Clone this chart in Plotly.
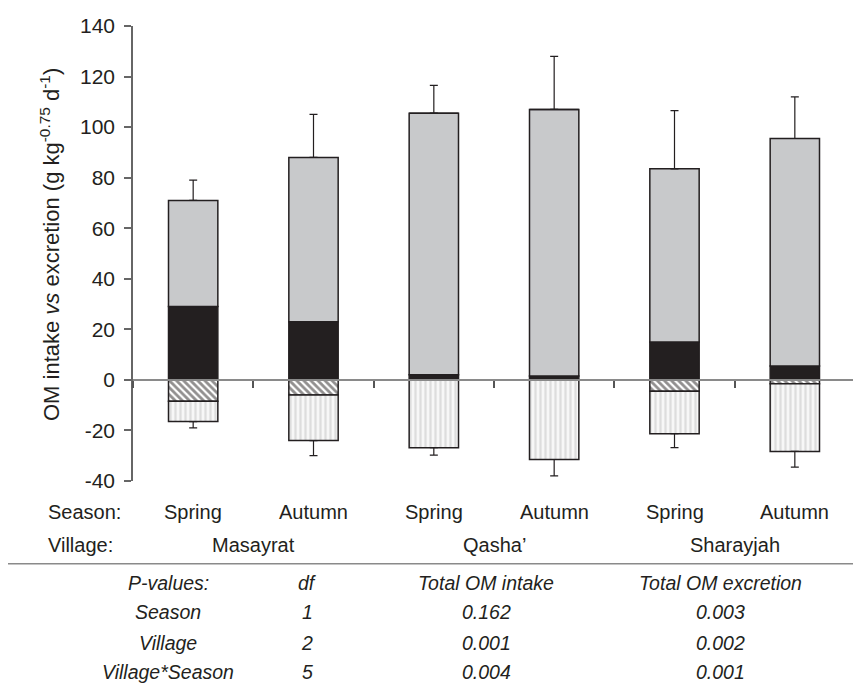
import plotly.graph_objects as go

# ---- data ----
villages = ["Masayrat", "Qasha’", "Sharayjah"]
seasons = ["Spring", "Autumn", "Spring", "Autumn", "Spring", "Autumn"]
groups = ["Masayrat Spring", "Masayrat Autumn", "Qasha Spring", "Qasha Autumn",
          "Sharayjah Spring", "Sharayjah Autumn"]
# intake (positive): black part and total intake (top of grey bar)
intake_black = [29, 23, 2, 1.5, 15, 5.5]
intake_total = [71, 88, 105.5, 107, 83.5, 95.5]
intake_err = [8, 17, 11, 21, 23, 16.5]
# excretion (negative): hatched part and total excretion (bottom of striped bar)
excr_hatched = [-8.5, -6, 0, 0, -4.5, -1.5]
excr_total = [-16.5, -24, -26.8, -31.5, -21.3, -28.3]
excr_err = [2.5, 6, 3, 6.5, 5.5, 6.2]

y_tick_vals = [-40, -20, 0, 20, 40, 60, 80, 100, 120, 140]
y_tick_text = ["-40", "-20", "0", "20", "40", "60", "80", "100", "120", "140"]

pval_rows = ["Season", "Village", "Village*Season"]
pval_df = ["1", "2", "5"]
pval_intake = ["0.162", "0.001", "0.004"]
pval_excretion = ["0.003", "0.002", "0.001"]

# ---- derived segments ----
intake_grey = [t - b for t, b in zip(intake_total, intake_black)]
excr_striped = [t - h for t, h in zip(excr_total, excr_hatched)]
zeros = [0] * len(groups)

INK = "#231f20"
FONT = "Liberation Sans, Arial, sans-serif"
line = dict(color=INK, width=1.5)
W = 0.41

fig = go.Figure()
fig.add_bar(x=groups, y=intake_black, width=W, marker=dict(color=INK, line=line))
fig.add_bar(x=groups, y=intake_grey, width=W, marker=dict(color="#c8c9cb", line=line),
            error_y=dict(type="data", symmetric=False, array=intake_err, arrayminus=zeros,
                         color=INK, thickness=1.2, width=4))
fig.add_bar(x=groups, y=excr_hatched, width=W,
            marker=dict(color="white", line=line,
                        pattern=dict(shape="\\", fgcolor=INK, bgcolor="white", size=5, solidity=0.55)))
fig.add_bar(x=groups, y=excr_striped, width=W,
            marker=dict(color="white", line=line,
                        pattern=dict(shape="|", fgcolor="#c4c4c4", bgcolor="#f7f7f7", size=5, solidity=0.45)),
            error_y=dict(type="data", symmetric=False, array=zeros, arrayminus=excr_err,
                         color=INK, thickness=1.2, width=4))

# page body has a default 8px margin; compensate so the page matches the target
OFF = 8
L, R, T, B = 133, 6, 24, 204
PW, PH = 861 - L - R, 685 - T - B
px = lambda x: (x - L) / PW
py = lambda y: (685 - B - y) / PH

FS = 20
ann = []
# season / village rows
ann.append(dict(x=px(46), y=py(512), xref="paper", yref="paper", text="Season:",
                xanchor="left", yanchor="middle", showarrow=False, font=dict(size=FS, color=INK)))
ann.append(dict(x=px(46), y=py(545), xref="paper", yref="paper", text="Village:",
                xanchor="left", yanchor="middle", showarrow=False, font=dict(size=FS, color=INK)))
for g, s in zip(groups, seasons):
    ann.append(dict(x=g, y=py(512), xref="x", yref="paper", text=s, xanchor="center",
                    yanchor="middle", showarrow=False, font=dict(size=FS, color=INK)))
for i, v in enumerate(villages):
    ann.append(dict(x=2 * i + 0.5, y=py(545), xref="x", yref="paper", text=v, xanchor="center",
                    yanchor="middle", showarrow=False, font=dict(size=FS, color=INK)))
# table
TS = 19.5
cols = [168, 307, 486, 720]
header = ["P-values:", "df", "Total OM intake", "Total OM excretion"]
rows_y = [583, 613, 644, 673]
for c, h in zip(cols, header):
    ann.append(dict(x=px(c), y=py(rows_y[0]), xref="paper", yref="paper", text=f"<i>{h}</i>",
                    xanchor="center", yanchor="middle", showarrow=False, font=dict(size=TS, color=INK)))
for r in range(3):
    vals = [pval_rows[r], pval_df[r], pval_intake[r], pval_excretion[r]]
    for c, v in zip(cols, vals):
        ann.append(dict(x=px(c), y=py(rows_y[r + 1]), xref="paper", yref="paper", text=f"<i>{v}</i>",
                        xanchor="center", yanchor="middle", showarrow=False, font=dict(size=TS, color=INK)))
# y title
ann.append(dict(x=0, y=py(244), xref="paper", yref="paper",
                text="OM intake <i>vs</i> excretion (g kg<sup>-0.75</sup> d<sup>-1</sup>)",
                textangle=-90, xanchor="center", yanchor="middle", xshift=-83, showarrow=False,
                font=dict(size=22, color=INK)))

fig.update_layout(
    width=861 - OFF, height=685 - OFF, barmode="relative", showlegend=False,
    plot_bgcolor="white", paper_bgcolor="white",
    margin=dict(l=L - OFF, r=R, t=T - OFF, b=B),
    font=dict(family=FONT, color=INK),
    annotations=ann,
    shapes=[dict(type="line", xref="paper", yref="paper", x0=px(7), x1=px(861),
                 y0=py(564), y1=py(564), line=dict(color="#8a8a8a", width=1.5))],
    xaxis=dict(range=[-0.5, 5.5], anchor="free", position=40 / 180, showline=True,
               linecolor="#8a8a8a", linewidth=2, ticks="outside", tickson="boundaries",
               ticklen=7, tickcolor="#555", tickwidth=1.5, showticklabels=False, showgrid=False),
    yaxis=dict(range=[-40, 140], tickvals=y_tick_vals, ticktext=y_tick_text, showline=True,
               linecolor="#666", linewidth=1.5, ticks="outside", ticklen=7, tickcolor="#666",
               tickwidth=1.5, showgrid=False, zeroline=False, ticklabelstandoff=5,
               tickfont=dict(size=21, color=INK)),
)
fig.write_html("out.html")
